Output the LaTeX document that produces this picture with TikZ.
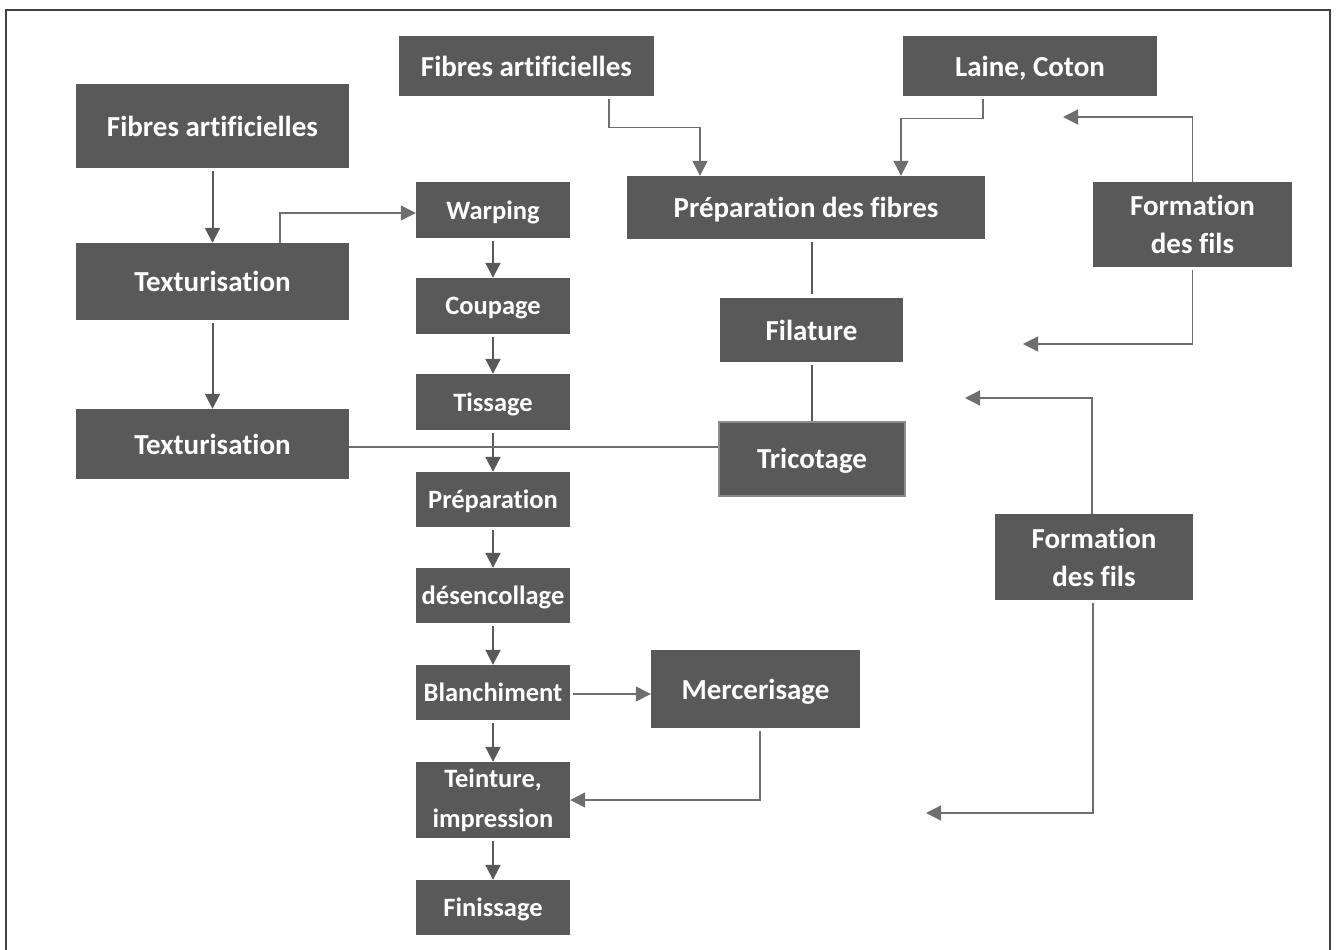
\documentclass[tikz,border=0pt]{standalone}
\usepackage{fontspec}
\setmainfont{Carlito}[Ligatures=NoCommon]
\usetikzlibrary{arrows.meta}
\definecolor{boxgray}{RGB}{89,89,89}
\definecolor{linegray}{RGB}{110,110,110}
\definecolor{edgegray}{RGB}{140,140,140}
\tikzset{
  box/.style={fill=boxgray, draw=none, text=white, inner sep=0pt, align=center,
    font=\bfseries\fontsize{29}{38}\selectfont},
  oneline/.style={text depth=0pt},
  smallbox/.style={box, minimum width=154pt, minimum height=56pt,
    font=\bfseries\fontsize{26.5}{40}\selectfont},
  tip/.style={-{Triangle[length=15pt,width=15pt]}},
  flow/.style={tip, draw=boxgray, line width=2pt, shorten <=3pt},
  link/.style={tip, draw=linegray, line width=1.3pt},
  plainlink/.style={draw=linegray, line width=1.3pt},
  bar/.style={draw=boxgray, line width=2pt}
}
\begin{document}
\begin{tikzpicture}[x=1pt, y=-1pt]
\useasboundingbox (0,0) rectangle (1336,950);
% frame
\draw[line width=2pt, black!75] (6,950) -- (6,10) -- (1330,10) -- (1330,950);

% left column
\node[box, oneline, minimum width=273pt, minimum height=84pt] (fa1) at (212.5,126) {Fibres artificielles};
\node[box, oneline, minimum width=273pt, minimum height=77pt] (tex1) at (212.5,281.5) {Texturisation};
\node[box, oneline, minimum width=273pt, minimum height=70pt] (tex2) at (212.5,444) {Texturisation};

% weaving column
\node[smallbox, oneline] (warp) at (493,210) {Warping};
\node[smallbox, oneline] (coup) at (493,306) {Coupage};
\node[smallbox, oneline] (tiss) at (493,402) {Tissage};
\node[smallbox, oneline, minimum height=55pt] (prep) at (493,499.5) {Préparation};
\node[smallbox, oneline, minimum height=55pt] (des) at (493,595.5) {désencollage};
\node[smallbox, oneline, minimum height=55pt] (blan) at (493,692.5) {Blanchiment};
\node[smallbox, minimum height=76pt] (tein) at (493,800) {Teinture,\\impression};
\node[smallbox, oneline, minimum height=55pt] (fini) at (493,907.5) {Finissage};
\node[box, oneline, minimum width=209pt, minimum height=78pt] (merc) at (755.5,689) {Mercerisage};

% fibre branch
\node[box, oneline, minimum width=255pt, minimum height=60pt] (fa2) at (526.5,66) {Fibres artificielles};
\node[box, oneline, minimum width=254pt, minimum height=60pt] (laine) at (1030,66) {Laine, Coton};
\node[box, oneline, minimum width=358pt, minimum height=63pt] (prepf) at (806,207.5) {Préparation des fibres};
\node[box, oneline, minimum width=183pt, minimum height=64pt] (fila) at (811.5,330) {Filature};
\node[box, oneline, minimum width=186pt, minimum height=74pt, draw=edgegray, line width=2pt] (tric) at (812,458.5) {Tricotage};

% yarn formation
\node[box, minimum width=199pt, minimum height=85pt] (form1) at (1192.5,224.5) {Formation\\des fils};
\node[box, minimum width=198pt, minimum height=86pt] (form2) at (1094,557) {Formation\\des fils};

% free arrow ends
\coordinate (f1a) at (1063,117);
\coordinate (f1b) at (1023,344);
\coordinate (f2a) at (965,398);
\coordinate (f2b) at (926,813);
\coordinate (t2r) at ([yshift=-3pt]tex2.east);

% left column flow
\draw[flow] (fa1) -- (tex1);
\draw[flow] (tex1) -- (tex2);
\draw[link] ([xshift=67.5pt]tex1.north) |- ([yshift=-3pt]warp.west);

% weaving flow
\draw[flow] (warp) -- (coup);
\draw[flow] (coup) -- (tiss);
\draw[flow] (tiss) -- (prep);
\draw[flow] (prep) -- (des);
\draw[flow] (des) -- (blan);
\draw[flow] (blan) -- (tein);
\draw[flow] (tein) -- (fini);
\draw[link, shorten <=3pt] ([yshift=-1.5pt]blan.east) -- ([yshift=-1.5pt]blan.east -| merc.west);
\draw[link, shorten <=3pt] ([xshift=4.5pt]merc.south) |- (tein.east);

% fibre branch flow
\draw[link, shorten <=3pt] ([xshift=82.5pt]fa2.south) -- ++(0,31) -| ([xshift=-106pt]prepf.north);
\draw[link, shorten <=3pt] ([xshift=-47pt]laine.south) -- ++(0,22) -| ([xshift=95pt]prepf.north);
\draw[bar, shorten <=3pt, shorten >=4pt] (prepf.south -| fila.north) -- (fila.north);
\draw[bar, shorten <=3pt] (fila.south) -- (fila.south |- tric.north);
\draw[plainlink] (t2r) -- (t2r -| tric.west);

% yarn formation arrows
\draw[link] (form1.north) |- (f1a);
\draw[link, shorten <=3pt] (form1.south) |- (f1b);
\draw[link] ([xshift=-2pt]form2.north) |- (f2a);
\draw[link, shorten <=3pt] ([xshift=-1pt]form2.south) |- (f2b);
\end{tikzpicture}
\end{document}
